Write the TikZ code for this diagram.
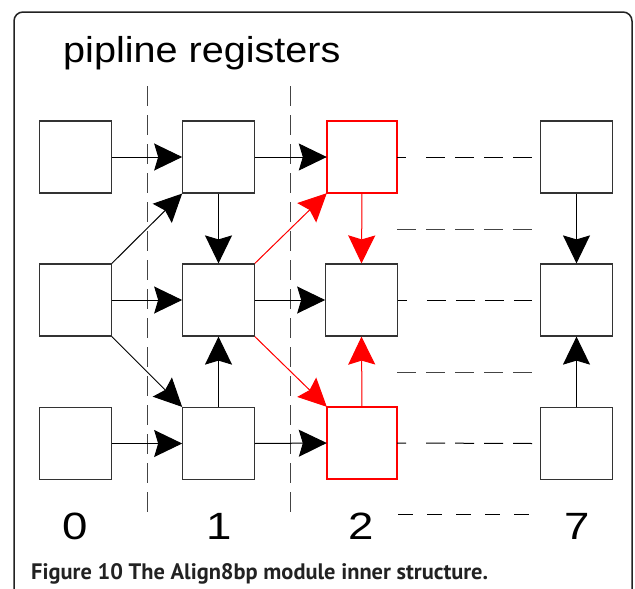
\documentclass[tikz,border=0pt]{standalone}
\usepackage{fontspec}
\setmainfont{Liberation Sans}
\newfontfamily\capfont{PT Sans}
\usetikzlibrary{arrows.meta}
\definecolor{framegray}{HTML}{222222}
\definecolor{boxgray}{HTML}{333333}
\definecolor{regred}{HTML}{FF0000}
\definecolor{dashgray}{HTML}{444444}
\tikzset{
  regshape/.style={minimum width=71.5pt, minimum height=72pt, inner sep=0pt},
  reg/.style={regshape, draw=boxgray, line width=1.2pt},
  regr/.style={regshape},
  redframe/.style={draw=regred, line width=2pt},
  flow/.style={line width=1pt, -{Stealth[length=28pt, width=27pt, inset=4pt]}},
  flowr/.style={flow, draw=regred, fill=regred},
  stagecut/.style={draw=dashgray, line width=1pt, dash pattern=on 20pt off 9pt},
  skip/.style={draw=black, line width=1pt, dash pattern=on 9pt off 20pt on 19pt off 10pt on 19pt off 10pt on 19pt off 10pt on 19pt off 10pt on 19pt},
  skipmid/.style={draw=dashgray, line width=1pt, dash pattern=on 19pt off 10pt},
  numdash/.style={draw=black, line width=1pt, dash pattern=on 15pt off 14pt},
  stagenum/.style={anchor=base, inner sep=0pt, font=\fontsize{38}{40}\selectfont}
}
\begin{document}
\begin{tikzpicture}[x=1pt, y=-1pt]
\useasboundingbox (0,0) rectangle (635,589);
% outer frame
\draw[framegray, line width=1.5pt, rounded corners=9pt] (14,12) rectangle (632,600);

% title
\node[anchor=base west, inner sep=0pt, font=\fontsize{36}{40}\selectfont] (title) at (63,62) {\scalebox{1.1}[1]{pipline registers}};

% pipeline stage boundaries
\coordinate (cutAtop) at (147,86);
\coordinate (cutAbot) at (147,512);
\coordinate (cutBtop) at (290,86);
\coordinate (cutBbot) at (290,512);
\draw[stagecut] (cutAtop) -- (cutAbot);
\draw[stagecut] (cutBtop) -- (cutBbot);

% registers
\node[reg]  (p0t) at (75.5,157) {};
\node[reg]  (p0m) at (75.5,300) {};
\node[reg]  (p0b) at (75.5,443.5) {};
\node[reg]  (p1t) at (218.5,157) {};
\node[reg]  (p1m) at (218.5,300) {};
\node[reg]  (p1b) at (218.5,443.5) {};
\node[regr, minimum width=70pt, minimum height=72pt] (p2t) at (362,157) {};
\node[reg]  (p2m) at (361.5,300) {};
\node[regr, minimum width=70pt, minimum height=72pt] (p2b) at (362,443) {};
\node[reg]  (p7t) at (576.5,157) {};
\node[reg]  (p7m) at (576.5,300) {};
\node[reg]  (p7b) at (576.5,443.5) {};
% highlighted registers
\draw[redframe] (p2t.south west) rectangle (p2t.north east);
\draw[redframe] (p2b.south west) rectangle (p2b.north east);

% stage 0 -> 1
\draw[flow] (p0t.east) -- (p1t.west);
\draw[flow] (p0m.east) -- (p1m.west);
\draw[flow] (p0b.east) -- (p1b.west);
\draw[flow] (p0m.north east) -- (p1t.south west);
\draw[flow] (p0m.south east) -- (p1b.north west);
\draw[flow] (p1t.south) -- (p1m.north);
\draw[flow] (p1b.north) -- (p1m.south);

% stage 1 -> 2
\draw[flow] (p1t.east) -- (p2t.west);
\draw[flow] (p1m.east) -- (p2m.west);
\draw[flow] (p1b.east) -- (p2b.west);
\draw[flowr] (p1m.north east) -- (p2t.south west);
\draw[flowr] (p1m.south east) -- (p2b.north west);
\draw[flowr] (p2t.south) -- (p2m.north);
\draw[flowr] (p2b.north) -- (p2m.south);

% stage 7
\draw[flow] (p7t.south) -- (p7m.north);
\draw[flow] (p7b.north) -- (p7m.south);

% elided stages 3..6
\coordinate (gapT) at (532,157);
\coordinate (gapM) at (532,300);
\coordinate (gapB) at (532,443.5);
\coordinate (gapU1) at (397,229);
\coordinate (gapU2) at (532,229);
\coordinate (gapL1) at (397,372);
\coordinate (gapL2) at (532,372);
\draw[skip] (p2t.east) -- (gapT);
\draw[skip] (p2m.east) -- (gapM);
\draw[skip] (p2b.east) -- (gapB);
\draw[skipmid] (gapU1) -- (gapU2);
\draw[skipmid] (gapL1) -- (gapL2);

% stage numbers
\node[stagenum] (n0) at (75,539) {\scalebox{1.2}[1]{0}};
\node[stagenum] (n1) at (219,539) {\scalebox{1.2}[1]{1}};
\node[stagenum] (n2) at (361,539) {\scalebox{1.2}[1]{2}};
\node[stagenum] (n7) at (577,539) {\scalebox{1.2}[1]{7}};
\coordinate (numdashA) at (398,514);
\coordinate (numdashB) at (529,514);
\draw[numdash] (numdashA) -- (numdashB);

% caption
\node[anchor=base west, inner sep=0pt, text=framegray] (cap) at (31,579) {\capfont\bfseries\fontsize{22.4}{26}\selectfont Figure 10 The Align8bp module inner structure.};
\end{tikzpicture}
\end{document}
